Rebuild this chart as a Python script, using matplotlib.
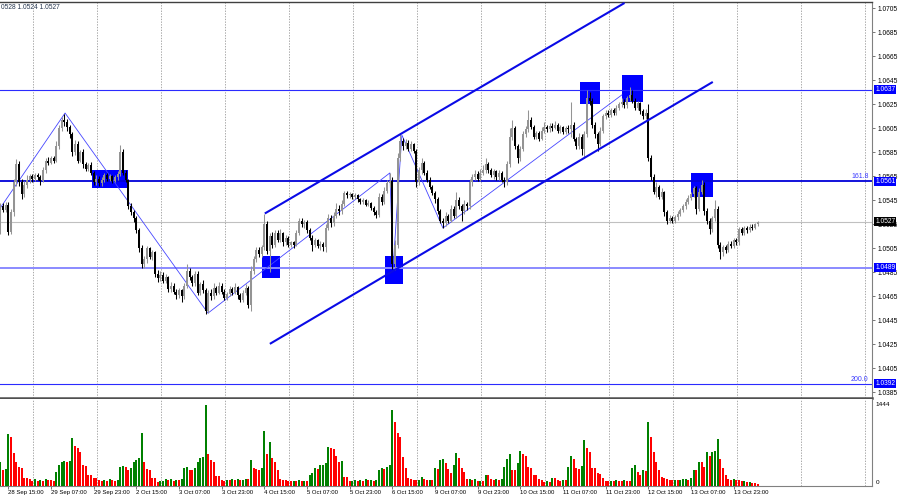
#!/usr/bin/env python3
"""EURUSD H1 chart with channel, levels and volumes (MT4 style)."""

import matplotlib.pyplot as plt
import matplotlib.transforms as mtransforms
from matplotlib.patches import Rectangle

plt.rcParams["font.family"] = ["Liberation Sans", "DejaVu Sans"]

# --- data (H1 bars, index 0 = 28 Sep 12:00) ---
open_first = 1.0520
closes = [
    1.0540, 1.0537, 1.0541, 1.0519, 1.0535, 1.0560, 1.0575, 1.0560, 1.0550, 1.0558,
    1.0562, 1.0565, 1.0563, 1.0566, 1.0564, 1.0561, 1.0570, 1.0578, 1.0576, 1.0580,
    1.0578, 1.0590, 1.0605, 1.0612, 1.0610, 1.0606, 1.0600, 1.0585, 1.0592, 1.0578,
    1.0585, 1.0575, 1.0571, 1.0574, 1.0568, 1.0560, 1.0563, 1.0559, 1.0562, 1.0566,
    1.0563, 1.0565, 1.0561, 1.0564, 1.0567, 1.0585, 1.0568, 1.0562, 1.0540, 1.0535,
    1.0530, 1.0520, 1.0505, 1.0492, 1.0496, 1.0505, 1.0498, 1.0502, 1.0484, 1.0480,
    1.0483, 1.0478, 1.0481, 1.0471, 1.0474, 1.0469, 1.0466, 1.0470, 1.0465, 1.0474,
    1.0486, 1.0481, 1.0476, 1.0484, 1.0468, 1.0475, 1.0470, 1.0453, 1.0468, 1.0465,
    1.0472, 1.0468, 1.0474, 1.0469, 1.0464, 1.0467, 1.0471, 1.0468, 1.0473, 1.0466,
    1.0462, 1.0468, 1.0472, 1.0458, 1.0486, 1.0496, 1.0504, 1.0500, 1.0506, 1.0525,
    1.0503, 1.0515, 1.0508, 1.0518, 1.0512, 1.0518, 1.0510, 1.0514, 1.0508, 1.0510,
    1.0508, 1.0518, 1.0528, 1.0525, 1.0527, 1.0520, 1.0514, 1.0508, 1.0512, 1.0507,
    1.0509, 1.0506, 1.0522, 1.0530, 1.0526, 1.0532, 1.0538, 1.0536, 1.0542, 1.0551,
    1.0549, 1.0550, 1.0548, 1.0549, 1.0546, 1.0544, 1.0545, 1.0541, 1.0543, 1.0539,
    1.0535, 1.0533, 1.0548, 1.0544, 1.0553, 1.0559, 1.0561, 1.0492, 1.0508, 1.0580,
    1.0594, 1.0590, 1.0593, 1.0588, 1.0592, 1.0586, 1.0560, 1.0570, 1.0576, 1.0568,
    1.0562, 1.0556, 1.0551, 1.0546, 1.0536, 1.0528, 1.0526, 1.0532, 1.0528, 1.0538,
    1.0532, 1.0545, 1.0540, 1.0536, 1.0542, 1.0540, 1.0560, 1.0564, 1.0567, 1.0563,
    1.0568, 1.0570, 1.0575, 1.0570, 1.0566, 1.0569, 1.0564, 1.0568, 1.0562, 1.0560,
    1.0575, 1.0598, 1.0605, 1.0590, 1.0580, 1.0588, 1.0600, 1.0604, 1.0612, 1.0606,
    1.0598, 1.0601, 1.0596, 1.0603, 1.0606, 1.0604, 1.0607, 1.0605, 1.0608, 1.0603,
    1.0606, 1.0602, 1.0605, 1.0604, 1.0608, 1.0596, 1.0590, 1.0598, 1.0588, 1.0600,
    1.0630, 1.0628, 1.0608, 1.0600, 1.0592, 1.0603, 1.0615, 1.0618, 1.0616, 1.0620,
    1.0618, 1.0622, 1.0625, 1.0627, 1.0624, 1.0630, 1.0633, 1.0628, 1.0622, 1.0626,
    1.0619, 1.0615, 1.0618, 1.0580, 1.0564, 1.0552, 1.0556, 1.0548, 1.0552, 1.0535,
    1.0528, 1.0530, 1.0528, 1.0531, 1.0534, 1.0537, 1.0540, 1.0544, 1.0547, 1.0550,
    1.0555, 1.0538, 1.0552, 1.0558, 1.0536, 1.0528, 1.0521, 1.0530, 1.0538, 1.0508,
    1.0502, 1.0506, 1.0504, 1.0509, 1.0507, 1.0512, 1.0510, 1.0521, 1.0518, 1.0522,
    1.0520, 1.0523, 1.0522, 1.0525, 1.0527,
]
highs = [
    1.0543, 1.0543, 1.0544, 1.0544, 1.0538, 1.0563, 1.0579, 1.0578, 1.0563, 1.0561,
    1.0566, 1.0567, 1.0567, 1.0568, 1.0568, 1.0566, 1.0573, 1.0580, 1.0581, 1.0582,
    1.0582, 1.0594, 1.0608, 1.0614, 1.0617, 1.0613, 1.0608, 1.0602, 1.0595, 1.0594,
    1.0587, 1.0588, 1.0577, 1.0576, 1.0577, 1.0569, 1.0566, 1.0565, 1.0564, 1.0568,
    1.0568, 1.0567, 1.0566, 1.0566, 1.0569, 1.0591, 1.0588, 1.0570, 1.0563, 1.0543,
    1.0537, 1.0532, 1.0522, 1.0508, 1.0499, 1.0507, 1.0506, 1.0504, 1.0503, 1.0487,
    1.0486, 1.0485, 1.0484, 1.0482, 1.0477, 1.0476, 1.0471, 1.0472, 1.0471, 1.0476,
    1.0492, 1.0489, 1.0483, 1.0486, 1.0486, 1.0477, 1.0479, 1.0472, 1.0470, 1.0471,
    1.0476, 1.0474, 1.0477, 1.0476, 1.0471, 1.0469, 1.0474, 1.0473, 1.0476, 1.0474,
    1.0468, 1.0470, 1.0475, 1.0474, 1.0490, 1.0499, 1.0506, 1.0506, 1.0508, 1.0534,
    1.0528, 1.0518, 1.0519, 1.0520, 1.0520, 1.0521, 1.0519, 1.0516, 1.0515, 1.0511,
    1.0511, 1.0520, 1.0530, 1.0530, 1.0529, 1.0529, 1.0522, 1.0516, 1.0514, 1.0513,
    1.0511, 1.0510, 1.0525, 1.0534, 1.0533, 1.0535, 1.0543, 1.0541, 1.0545, 1.0553,
    1.0553, 1.0552, 1.0551, 1.0551, 1.0550, 1.0547, 1.0547, 1.0546, 1.0545, 1.0544,
    1.0540, 1.0537, 1.0551, 1.0550, 1.0556, 1.0562, 1.0568, 1.0564, 1.0512, 1.0584,
    1.0600, 1.0597, 1.0596, 1.0595, 1.0594, 1.0593, 1.0588, 1.0573, 1.0580, 1.0578,
    1.0570, 1.0564, 1.0558, 1.0553, 1.0548, 1.0538, 1.0530, 1.0535, 1.0534, 1.0541,
    1.0540, 1.0552, 1.0548, 1.0542, 1.0545, 1.0544, 1.0563, 1.0567, 1.0570, 1.0569,
    1.0571, 1.0574, 1.0580, 1.0577, 1.0572, 1.0571, 1.0570, 1.0570, 1.0569, 1.0564,
    1.0578, 1.0605, 1.0612, 1.0607, 1.0592, 1.0590, 1.0603, 1.0607, 1.0620, 1.0614,
    1.0608, 1.0603, 1.0603, 1.0606, 1.0610, 1.0608, 1.0609, 1.0609, 1.0611, 1.0609,
    1.0608, 1.0607, 1.0607, 1.0608, 1.0627, 1.0610, 1.0598, 1.0601, 1.0600, 1.0603,
    1.0637, 1.0635, 1.0630, 1.0610, 1.0602, 1.0606, 1.0617, 1.0620, 1.0620, 1.0622,
    1.0622, 1.0624, 1.0627, 1.0630, 1.0629, 1.0632, 1.0639, 1.0637, 1.0630, 1.0628,
    1.0627, 1.0621, 1.0621, 1.0625, 1.0583, 1.0567, 1.0560, 1.0558, 1.0555, 1.0553,
    1.0537, 1.0533, 1.0532, 1.0533, 1.0536, 1.0539, 1.0542, 1.0546, 1.0549, 1.0552,
    1.0557, 1.0557, 1.0555, 1.0562, 1.0560, 1.0539, 1.0530, 1.0532, 1.0545, 1.0540,
    1.0510, 1.0508, 1.0508, 1.0511, 1.0511, 1.0514, 1.0514, 1.0523, 1.0523, 1.0524,
    1.0524, 1.0525, 1.0525, 1.0526, 1.0528,
]
lows = [
    1.0517, 1.0535, 1.0535, 1.0516, 1.0517, 1.0532, 1.0557, 1.0557, 1.0546, 1.0548,
    1.0555, 1.0559, 1.0560, 1.0561, 1.0562, 1.0558, 1.0560, 1.0568, 1.0574, 1.0575,
    1.0576, 1.0577, 1.0588, 1.0603, 1.0607, 1.0603, 1.0597, 1.0582, 1.0583, 1.0576,
    1.0577, 1.0572, 1.0569, 1.0569, 1.0566, 1.0558, 1.0558, 1.0557, 1.0557, 1.0560,
    1.0561, 1.0561, 1.0559, 1.0560, 1.0562, 1.0565, 1.0566, 1.0560, 1.0538, 1.0533,
    1.0527, 1.0518, 1.0502, 1.0489, 1.0489, 1.0493, 1.0496, 1.0495, 1.0481, 1.0477,
    1.0478, 1.0476, 1.0476, 1.0469, 1.0469, 1.0467, 1.0463, 1.0464, 1.0460, 1.0463,
    1.0472, 1.0479, 1.0474, 1.0474, 1.0466, 1.0466, 1.0468, 1.0450, 1.0451, 1.0462,
    1.0463, 1.0466, 1.0467, 1.0467, 1.0462, 1.0462, 1.0465, 1.0466, 1.0467, 1.0463,
    1.0460, 1.0460, 1.0466, 1.0455, 1.0453, 1.0484, 1.0494, 1.0498, 1.0498, 1.0504,
    1.0500, 1.0485, 1.0505, 1.0506, 1.0510, 1.0510, 1.0507, 1.0508, 1.0506, 1.0506,
    1.0505, 1.0507, 1.0516, 1.0523, 1.0522, 1.0518, 1.0512, 1.0503, 1.0506, 1.0505,
    1.0504, 1.0503, 1.0502, 1.0520, 1.0523, 1.0524, 1.0530, 1.0533, 1.0534, 1.0540,
    1.0547, 1.0547, 1.0546, 1.0546, 1.0544, 1.0542, 1.0542, 1.0540, 1.0540, 1.0537,
    1.0533, 1.0530, 1.0531, 1.0541, 1.0542, 1.0551, 1.0556, 1.0488, 1.0487, 1.0505,
    1.0578, 1.0587, 1.0588, 1.0586, 1.0586, 1.0584, 1.0556, 1.0558, 1.0567, 1.0566,
    1.0560, 1.0554, 1.0549, 1.0543, 1.0534, 1.0526, 1.0522, 1.0524, 1.0526, 1.0527,
    1.0530, 1.0530, 1.0538, 1.0528, 1.0534, 1.0537, 1.0538, 1.0557, 1.0562, 1.0561,
    1.0561, 1.0566, 1.0568, 1.0568, 1.0564, 1.0563, 1.0562, 1.0562, 1.0560, 1.0556,
    1.0558, 1.0573, 1.0595, 1.0588, 1.0576, 1.0578, 1.0586, 1.0598, 1.0602, 1.0604,
    1.0596, 1.0596, 1.0594, 1.0595, 1.0601, 1.0602, 1.0602, 1.0603, 1.0604, 1.0601,
    1.0601, 1.0600, 1.0600, 1.0601, 1.0598, 1.0594, 1.0588, 1.0588, 1.0583, 1.0580,
    1.0598, 1.0624, 1.0605, 1.0597, 1.0586, 1.0590, 1.0601, 1.0613, 1.0614, 1.0614,
    1.0616, 1.0616, 1.0620, 1.0623, 1.0622, 1.0622, 1.0628, 1.0626, 1.0620, 1.0620,
    1.0617, 1.0613, 1.0613, 1.0578, 1.0562, 1.0550, 1.0548, 1.0546, 1.0546, 1.0532,
    1.0525, 1.0526, 1.0526, 1.0526, 1.0529, 1.0532, 1.0535, 1.0538, 1.0542, 1.0545,
    1.0548, 1.0534, 1.0536, 1.0550, 1.0533, 1.0525, 1.0517, 1.0519, 1.0528, 1.0505,
    1.0496, 1.0499, 1.0501, 1.0502, 1.0505, 1.0505, 1.0508, 1.0508, 1.0516, 1.0516,
    1.0518, 1.0519, 1.0520, 1.0521, 1.0524,
]
volumes = [
    430, 280, 300, 920, 873, 584, 430, 340, 325, 140,
    140, 130, 90, 118, 95, 110, 90, 118, 100, 100,
    95, 250, 380, 430, 440, 420, 440, 850, 700, 680,
    600, 370, 360, 195, 190, 140, 135, 100, 90, 110,
    95, 120, 100, 90, 115, 340, 360, 330, 283, 310,
    430, 460, 496, 938, 430, 300, 290, 140, 135, 75,
    80, 90, 120, 100, 130, 95, 110, 100, 125, 310,
    340, 283, 280, 310, 430, 490, 519, 1440, 566, 460,
    430, 180, 175, 100, 95, 110, 100, 130, 105, 120,
    100, 115, 130, 125, 460, 310, 300, 290, 310, 980,
    566, 779, 496, 430, 283, 120, 115, 110, 90, 85,
    95, 90, 100, 90, 95, 85, 200, 230, 310, 300,
    370, 380, 400, 690, 672, 650, 531, 430, 440, 165,
    160, 90, 95, 100, 90, 110, 95, 120, 100, 105,
    90, 115, 280, 310, 300, 340, 370, 1345, 1133, 943,
    873, 519, 310, 135, 130, 105, 100, 110, 165, 120,
    100, 115, 110, 310, 300, 460, 478, 400, 300, 225,
    370, 584, 496, 320, 250, 120, 125, 115, 120, 80,
    85, 80, 195, 190, 120, 115, 120, 110, 125, 340,
    478, 566, 283, 280, 400, 620, 566, 531, 330, 320,
    195, 190, 120, 115, 75, 80, 70, 150, 145, 100,
    95, 105, 100, 340, 531, 478, 310, 300, 350, 814,
    678, 602, 320, 310, 225, 220, 135, 90, 85, 95,
    80, 100, 90, 85, 100, 95, 90, 310, 370, 250,
    195, 280, 270, 1133, 873, 608, 430, 283, 165, 135,
    130, 105, 100, 110, 105, 115, 120, 125, 110, 135,
    280, 275, 430, 420, 340, 602, 540, 602, 620, 832,
    478, 310, 195, 120, 115, 125, 110, 100, 90, 95,
    70, 75, 50, 45, 40,
]

time_labels = [
    "28 Sep 15:00", "29 Sep 07:00", "29 Sep 23:00", "2 Oct 15:00", "3 Oct 07:00",
    "3 Oct 23:00", "4 Oct 15:00", "5 Oct 07:00", "5 Oct 23:00", "6 Oct 15:00",
    "9 Oct 07:00", "9 Oct 23:00", "10 Oct 15:00", "11 Oct 07:00", "11 Oct 23:00",
    "12 Oct 15:00", "13 Oct 07:00", "13 Oct 23:00",
]
label_bars = [3 + 16 * k for k in range(len(time_labels))]

price_ticks = [1.0705 - 0.0020 * k for k in range(17)]

# levels: price, colour, width, label box colour
level_prices = [1.0637, 1.0561, 1.0527, 1.0489, 1.0392]
level_colors = ["#2b2bff", "#0000d8", "#c0c0c0", "#8a8aff", "#2b2bff"]
level_widths = [0.8, 1.3, 0.8, 1.4, 0.8]
level_box = ["#0000ff", "#0000ff", "#000000", "#0000ff", "#0000ff"]
fibo_text = {1.0561: "161.8", 1.0392: "200.0"}

# channel lines (bar index, price)
channel_upper = [(99.2, 1.0534), (234.1, 1.07094)]
channel_lower = [(101.1, 1.04254), (267.2, 1.06436)]

# zigzag
zigzag_bars = [0.0, 24.3, 77.9, 146.1, 147.3, 150.6, 166.0, 233.1]
zigzag_prices = [1.05386, 1.06177, 1.04510, 1.05678, 1.04886, 1.05994, 1.05219, 1.06328]

# blue boxes: (bar from, bar to, price low, price high)
boxes = [
    (34.3, 48.0, 1.05550, 1.05703),
    (98.0, 104.9, 1.04800, 1.04986),
    (144.3, 151.1, 1.04753, 1.04986),
    (217.4, 224.9, 1.06250, 1.06433),
    (233.2, 241.2, 1.06272, 1.06494),
    (259.2, 267.1, 1.05480, 1.05675),
]

X_MIN, X_MAX = -0.1, 326.9
Y_MIN, Y_MAX = 1.03803, 1.07102


def draw_candles(ax):
    opens = [open_first] + closes[:-1]
    idx = list(range(len(closes)))
    up_col, dn_col = "#949494", "#000000"
    cols = [up_col if c >= o else dn_col for o, c in zip(opens, closes)]
    ax.vlines(idx, lows, highs, colors=cols, linewidth=0.75, zorder=3)
    bottoms = [min(o, c) for o, c in zip(opens, closes)]
    heights = [max(abs(c - o), 0.00008) for o, c in zip(opens, closes)]
    ax.bar(idx, heights, bottom=bottoms, width=0.74, color=cols,
           linewidth=0, zorder=3)


def draw_grid(ax):
    for k in range(14):
        ax.axvline(12.25 + 24 * k, color="#a8a8a8", linewidth=0.7,
                   linestyle=(0, (1.4, 1.4)), zorder=0)


def main():
    fig = plt.figure(figsize=(9, 5), dpi=100)
    ax = fig.add_axes([0, 1 - 398 / 500, 872 / 900, 396 / 500])
    axv = fig.add_axes([0, 1 - 486 / 500, 872 / 900, 87 / 500])

    for a in (ax, axv):
        a.set_xlim(X_MIN, X_MAX)
        a.set_facecolor("white")
        a.spines["left"].set_visible(False)
        a.spines["right"].set_color("#808080")
        a.spines["right"].set_linewidth(0.8)
        draw_grid(a)

    # ---- price panel ----
    ax.set_ylim(Y_MIN, Y_MAX)
    ax.spines["top"].set_color("#404040")
    ax.spines["top"].set_linewidth(1.0)
    ax.spines["bottom"].set_color("#505050")
    ax.spines["bottom"].set_linewidth(1.8)
    ax.set_xticks([])
    ax.yaxis.tick_right()
    ax.set_yticks(price_ticks)
    ax.set_yticklabels([f"{p:.4f}" for p in price_ticks])
    ax.tick_params(axis="y", length=2.5, width=0.6, pad=1.5, labelsize=4.8,
                   color="#606060")

    for (b0, b1, p0, p1) in boxes:
        ax.add_patch(Rectangle((b0, p0), b1 - b0, p1 - p0, facecolor="#0000ff",
                               edgecolor="none", zorder=1))

    for p, c, w in zip(level_prices, level_colors, level_widths):
        ax.axhline(p, color=c, linewidth=w, zorder=2)

    ax.plot([q[0] for q in channel_upper], [q[1] for q in channel_upper],
            color="#0a0ae6", linewidth=1.5, zorder=4, solid_capstyle="butt")
    ax.plot([q[0] for q in channel_lower], [q[1] for q in channel_lower],
            color="#0a0ae6", linewidth=1.5, zorder=4, solid_capstyle="butt")
    ax.plot(zigzag_bars, zigzag_prices, color="#4646ff", linewidth=0.6, zorder=2.5)

    draw_candles(ax)

    trans = mtransforms.blended_transform_factory(ax.transAxes, ax.transData)
    for p, bg in zip(level_prices, level_box):
        ax.text(1.0035, p, f"{p:.4f}", transform=trans, fontsize=4.8,
                color="white", va="center", ha="left", zorder=10, clip_on=False,
                bbox=dict(boxstyle="square,pad=0.15", facecolor=bg, edgecolor="none"))
    for p, txt in fibo_text.items():
        ax.text(0.996, p + 0.00006, txt, transform=trans, fontsize=5.0,
                color="#3c3cff", va="bottom", ha="right", zorder=6)

    fig.text(0.001, 0.992, "0528 1.0524 1.0527", fontsize=4.8, color="#26364f",
             ha="left", va="top")

    # ---- volume panel ----
    vcols = ["#008000"]
    for i in range(1, len(volumes)):
        vcols.append("#008000" if volumes[i] > volumes[i - 1] else "#ff0000")
    axv.bar(range(len(volumes)), volumes, width=0.74, color=vcols, linewidth=0,
            zorder=3)
    axv.set_ylim(0, 1541)
    axv.spines["top"].set_visible(False)
    axv.spines["bottom"].set_color("#808080")
    axv.spines["bottom"].set_linewidth(0.8)
    axv.yaxis.tick_right()
    axv.set_yticks([1444])
    axv.set_yticklabels(["1444"])
    axv.tick_params(axis="y", length=0, pad=2.5, labelsize=4.6)
    vtrans = mtransforms.blended_transform_factory(axv.transAxes, axv.transData)
    axv.text(1.004, 60, "0", transform=vtrans, fontsize=4.6, ha="left",
             va="center", clip_on=False)

    axv.set_xticks(label_bars)
    axv.set_xticklabels(time_labels)
    for lab in axv.get_xticklabels():
        lab.set_horizontalalignment("left")
    axv.tick_params(axis="x", length=2, width=0.6, pad=1, labelsize=4.3,
                    color="#606060")

    fig.savefig("out.png", dpi=100)


if __name__ == "__main__":
    main()
